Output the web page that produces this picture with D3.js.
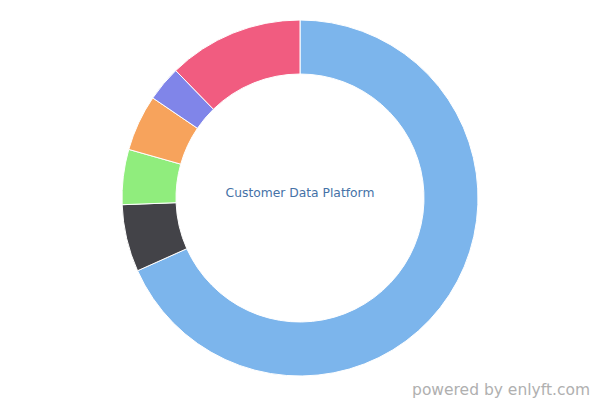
<!DOCTYPE html>
<html><head><meta charset="utf-8">
<script src="https://cdn.jsdelivr.net/npm/d3@7"></script>
<style>html,body{margin:0;padding:0;background:#fff;}svg{display:block;}</style>
</head><body>
<svg id="chart" width="600" height="400"></svg>
<script>
const categories = ["A", "B", "C", "D", "E", "F"];
const values = [68.3, 6.1, 5.0, 5.1, 3.2, 12.3];
const colors = ["#7cb5ec", "#434348", "#90ed7d", "#f7a35c", "#8085e9", "#f15c80"];
const centerLabel = "Customer Data Platform";
const credit = "powered by enlyft.com";

const svg = d3.select("#chart");
const cx = 300, cy = 198, rOuter = 178, rInner = 124;
const data = categories.map((c, i) => ({cat: c, value: values[i], color: colors[i]}));
const pie = d3.pie().value(d => d.value).sort(null);
const arc = d3.arc().innerRadius(rInner).outerRadius(rOuter);
const g = svg.append("g").attr("transform", `translate(${cx},${cy})`);
g.selectAll("path").data(pie(data)).enter().append("path")
  .attr("d", arc).attr("fill", d => d.data.color)
  .attr("stroke", "#ffffff").attr("stroke-width", 1).attr("stroke-linejoin", "round");
g.append("text").attr("x", 0).attr("y", -5).attr("dy", "0.35em")
  .attr("text-anchor", "middle").attr("fill", "#4572a7")
  .style("font-family", "DejaVu Sans, sans-serif").style("font-size", "12.3px")
  .text(centerLabel);
svg.append("text").attr("x", 590).attr("y", 395).attr("text-anchor", "end")
  .attr("fill", "#b0b0b0").style("font-family", "DejaVu Sans, sans-serif").style("font-size", "15.5px")
  .text(credit);
</script>
</body></html>
